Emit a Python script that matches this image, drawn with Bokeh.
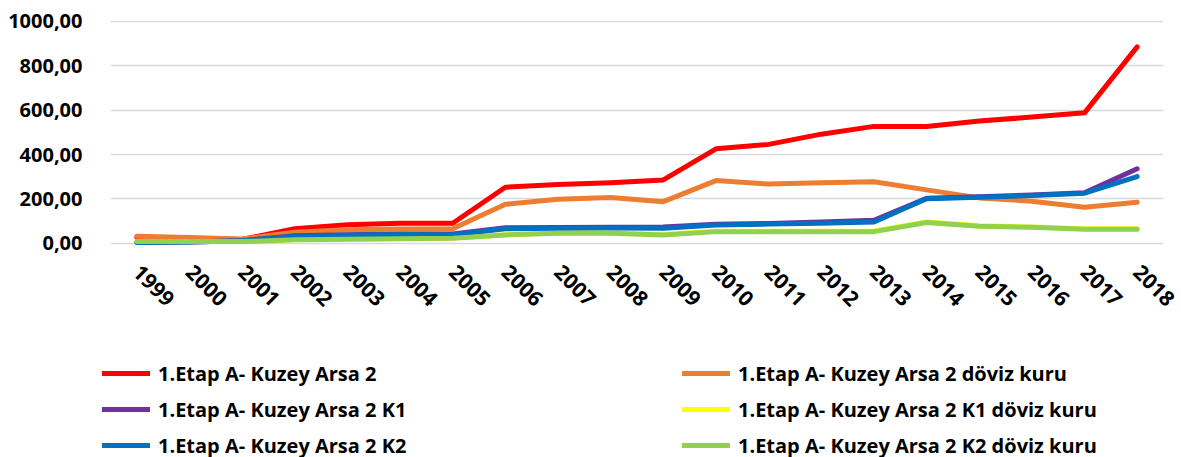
import math
from bokeh.plotting import figure
from bokeh.layouts import column
from bokeh.models import Range1d, Legend, LegendItem
from bokeh.embed import file_html
from bokeh.resources import INLINE

years = ["1999", "2000", "2001", "2002", "2003", "2004", "2005", "2006", "2007", "2008",
         "2009", "2010", "2011", "2012", "2013", "2014", "2015", "2016", "2017", "2018"]

arsa2 = [28, 22, 18, 66, 84, 91, 91, 253, 265, 273, 286, 426, 446, 492, 527, 527, 551, 569, 588, 885]
arsa2_doviz = [32, 26, 20, 50, 61, 65, 66, 176, 199, 207, 188, 283, 267, 273, 278, 241, 205, 190, 163, 185]
arsa2_k1 = [4, 6, 12, 34, 39, 42, 42, 70, 72, 73, 74, 86, 90, 96, 104, 203, 210, 218, 228, 336]
arsa2_k1_doviz = [9, 9, 9, 17, 20, 22, 24, 39, 47, 47, 40, 55, 55, 55, 56, 96, 79, 74, 66, 66]
arsa2_k2 = [4, 6, 12, 32, 37, 40, 39, 66, 68, 69, 68, 83, 87, 91, 96, 201, 208, 216, 226, 301]
arsa2_k2_doviz = [8, 8, 8, 16, 19, 21, 23, 38, 46, 46, 38, 53, 53, 52, 53, 94, 77, 73, 64, 64]

series_names = [
    "1.Etap A- Kuzey Arsa 2",
    "1.Etap A- Kuzey Arsa 2 döviz kuru",
    "1.Etap A- Kuzey Arsa 2 K1",
    "1.Etap A- Kuzey Arsa 2 K1 döviz kuru",
    "1.Etap A- Kuzey Arsa 2 K2",
    "1.Etap A- Kuzey Arsa 2 K2 döviz kuru",
]
series_values = [arsa2, arsa2_doviz, arsa2_k1, arsa2_k1_doviz, arsa2_k2, arsa2_k2_doviz]
series_colors = ["#FF0000", "#ED7D31", "#7030A0", "#FFFF00", "#0070C0", "#92D050"]

y_ticks = [0, 200, 400, 600, 800, 1000]
y_tick_labels = ["0,00", "200,00", "400,00", "600,00", "800,00", "1000,00"]

FONT = "Open Sans"
W = 1180

x = list(range(len(years)))

p = figure(width=W, height=340, output_backend="svg", toolbar_location=None,
           x_range=Range1d(-0.5, len(years) - 0.5), y_range=Range1d(-14, 1004),
           min_border_left=110, min_border_right=W - 1163, min_border_top=20, min_border_bottom=94)
p.outline_line_color = None
p.background_fill_color = "white"
p.border_fill_color = "white"

p.xgrid.grid_line_color = None
p.ygrid.grid_line_color = "#D9D9D9"
p.ygrid.grid_line_width = 1.5

# x axis
p.xaxis.ticker = x
p.xaxis.major_label_overrides = {i: y for i, y in enumerate(years)}
p.xaxis.major_label_orientation = -math.pi / 4
p.xaxis.major_label_standoff = 16
p.xaxis.major_tick_line_color = None
p.xaxis.minor_tick_line_color = None
p.xaxis.axis_line_color = None
p.xaxis.major_label_text_font = FONT
p.xaxis.major_label_text_font_style = "bold"
p.xaxis.major_label_text_font_size = "21px"
p.xaxis.major_label_text_color = "black"

# y axis
p.yaxis.ticker = y_ticks
p.yaxis.major_label_overrides = dict(zip(y_ticks, y_tick_labels))
p.yaxis.major_label_standoff = 22
p.yaxis.major_tick_line_color = None
p.yaxis.minor_tick_line_color = None
p.yaxis.axis_line_color = None
p.yaxis.major_label_text_font = FONT
p.yaxis.major_label_text_font_style = "bold"
p.yaxis.major_label_text_font_size = "20px"
p.yaxis.major_label_text_color = "black"

for vals, col in zip(series_values, series_colors):
    p.line(x, vals, line_color=col, line_width=5, line_join="round", line_cap="round")

# legend panel (separate figure below the chart); its series lie outside its view,
# only their legend glyphs are shown
q = figure(width=W, height=117, output_backend="svg", toolbar_location=None,
           x_axis_location=None, y_axis_location=None,
           x_range=Range1d(-0.5, len(years) - 0.5), y_range=Range1d(5000, 5001),
           min_border_left=0, min_border_right=0, min_border_top=0, min_border_bottom=0)
q.frame_align = False
q.outline_line_color = None
q.grid.visible = False
q.background_fill_color = "white"
q.border_fill_color = "white"

legend_renderers = []
for vals, col in zip(series_values, series_colors):
    r = q.line(x, vals, line_color=col, line_width=5, line_join="round", line_cap="round")
    legend_renderers.append(r)


def make_legend(idx, loc):
    items = [LegendItem(label=series_names[i], renderers=[legend_renderers[i]]) for i in idx]
    return Legend(items=items, location=loc, orientation="vertical",
                  glyph_width=48, glyph_height=30, label_height=30, spacing=6,
                  padding=0, margin=0, label_standoff=8,
                  label_text_font=FONT, label_text_font_style="bold",
                  label_text_font_size="20px", label_text_color="black",
                  background_fill_alpha=0, border_line_color=None)


q.add_layout(make_legend([0, 2, 4], (102, -3)))
q.add_layout(make_legend([1, 3, 5], (682, -3)))

layout = column(p, q, spacing=0)
open("out.html", "w").write(file_html(layout, INLINE))
